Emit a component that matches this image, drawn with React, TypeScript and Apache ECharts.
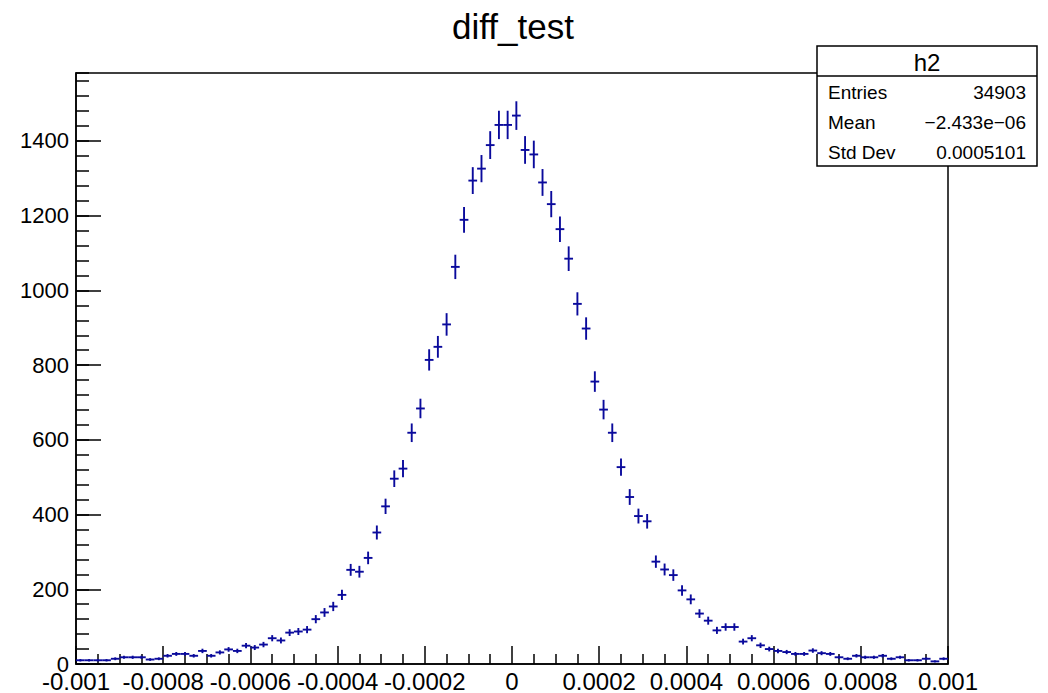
import React, { useEffect, useRef } from "react";
import * as echarts from "echarts";

const title = "diff_test";
const xMin = -0.001;
const xMax = 0.001;
const yMax = 1582;
// bin contents, 100 bins from -0.001 to 0.001
const counts = [
  10, 10, 10, 10, 14, 18, 18, 18, 12, 14,
  22, 27, 27, 22, 35, 22, 31, 39, 35, 49,
  44, 52, 69, 63, 84, 87, 92, 120, 138, 154,
  185, 252, 247, 284, 352, 422, 496, 523, 619, 684,
  814, 849, 909, 1063, 1189, 1294, 1326, 1389, 1443, 1443,
  1468, 1376, 1364, 1289, 1231, 1164, 1085, 964, 898, 756,
  681, 619, 527, 447, 396, 382, 274, 253, 238, 197,
  173, 135, 116, 90, 99, 99, 60, 69, 50, 40,
  35, 32, 27, 27, 36, 29, 27, 18, 14, 22,
  18, 18, 22, 14, 18, 10, 10, 14, 7, 14,
];
const xTickLabels = ["-0.001", "-0.0008", "-0.0006", "-0.0004", "-0.0002", "0", "0.0002", "0.0004", "0.0006", "0.0008", "0.001"];
const statsName = "h2";
const statsRows = [
  ["Entries", "34903"],
  ["Mean", "\u22122.433e\u221206"],
  ["Std Dev", "0.0005101"],
];

const FONT = "Liberation Sans, Arial, Helvetica, sans-serif";
const MARK = "#0a0a9c";

export default function App() {
  const ref = useRef<HTMLDivElement>(null);
  useEffect(() => {
    if (!ref.current) return;
    const chart = echarts.init(ref.current, null, { renderer: "svg" });
    const n = counts.length;
    const w = (xMax - xMin) / n;
    const data = counts.map((c, i) => [xMin + i * w, xMin + (i + 1) * w, c, Math.sqrt(c)]);

    const renderItem = (params: any, api: any) => {
      const x0 = api.value(0);
      const x1 = api.value(1);
      const c = api.value(2);
      const e = api.value(3);
      const xm = (x0 + x1) / 2;
      const pL = api.coord([x0, c]);
      const pR = api.coord([x1, c]);
      const pT = api.coord([xm, c + e]);
      const pB = api.coord([xm, Math.max(0, c - e)]);
      const style = { stroke: MARK, lineWidth: 1.9 };
      return {
        type: "group",
        children: [
          { type: "line", shape: { x1: pL[0], y1: pL[1], x2: pR[0], y2: pR[1] }, style },
          { type: "line", shape: { x1: pT[0], y1: pT[1], x2: pB[0], y2: pB[1] }, style },
        ],
      };
    };

    const bx = 817, by = 46, bw = 220, bh = 120, hh = 30;
    const statsChildren: any[] = [
      { type: "rect", shape: { x: bx, y: by, width: bw, height: bh }, style: { fill: "#fff", stroke: "#000", lineWidth: 1.5 } },
      { type: "line", shape: { x1: bx, y1: by + hh, x2: bx + bw, y2: by + hh }, style: { stroke: "#000", lineWidth: 1.5 } },
      { type: "text", x: bx + bw / 2, y: by + hh / 2 + 1, style: { text: statsName, font: `24px ${FONT}`, fill: "#000", align: "center", verticalAlign: "middle" } },
    ];
    statsRows.forEach((r, i) => {
      const y = by + hh + 16 + i * 30;
      statsChildren.push({ type: "text", x: bx + 11, y, style: { text: r[0], font: `19px ${FONT}`, fill: "#000", align: "left", verticalAlign: "middle" } });
      statsChildren.push({ type: "text", x: bx + bw - 11, y, style: { text: r[1], font: `19px ${FONT}`, fill: "#000", align: "right", verticalAlign: "middle" } });
    });

    const labelFor = (v: number) => {
      const k = Math.round((v - xMin) / 0.0002);
      return xTickLabels[k] ?? "";
    };

    chart.setOption({
      animation: false,
      backgroundColor: "#fff",
      grid: { left: 76, right: 100, top: 73, bottom: 28, show: true, borderColor: "#000", borderWidth: 1.5, backgroundColor: "transparent" },
      xAxis: {
        type: "value",
        min: xMin,
        max: xMax,
        interval: 0.0002,
        axisLine: { show: true, onZero: false, lineStyle: { color: "#000", width: 1.5 } },
        axisTick: { show: true, inside: true, length: 18, lineStyle: { color: "#000", width: 1.5 } },
        minorTick: { show: true, splitNumber: 4, length: 10, lineStyle: { color: "#000", width: 1.5 } },
        splitLine: { show: false },
        axisLabel: { margin: 5, fontFamily: FONT, fontSize: 24, color: "#000", formatter: labelFor, showMinLabel: true, showMaxLabel: true, hideOverlap: false },
      },
      yAxis: [
        {
          type: "value",
          min: 0,
          max: yMax,
          interval: 200,
          axisLine: { show: true, onZero: false, lineStyle: { color: "#000", width: 1.5 } },
          axisTick: { show: true, inside: true, length: 25, lineStyle: { color: "#000", width: 1.5 } },
          splitLine: { show: false },
          axisLabel: { margin: 7, fontFamily: FONT, fontSize: 22, color: "#000", showMaxLabel: false, formatter: (v: number) => (v % 200 === 0 ? String(v) : "") },
        },
        {
          type: "value",
          position: "left",
          offset: 0,
          min: 0,
          max: yMax,
          interval: 40,
          axisLine: { show: false, onZero: false },
          axisTick: { show: true, inside: true, length: 13, lineStyle: { color: "#000", width: 1.5 } },
          splitLine: { show: false },
          axisLabel: { show: false },
        },
      ],
      series: [
        {
          type: "custom",
          renderItem,
          data,
          clip: true,
          encode: { x: [0, 1], y: 2 },
          yAxisIndex: 0,
        },
      ],
      graphic: [
        { type: "text", x: 513, y: 26, style: { text: title, font: `35px ${FONT}`, fill: "#000", align: "center", verticalAlign: "middle" } },
        { type: "group", children: statsChildren },
      ],
    });
    return () => chart.dispose();
  }, []);
  return <div ref={ref} style={{ position: "fixed", left: 0, top: 0, width: 1048, height: 693 }} />;
}
